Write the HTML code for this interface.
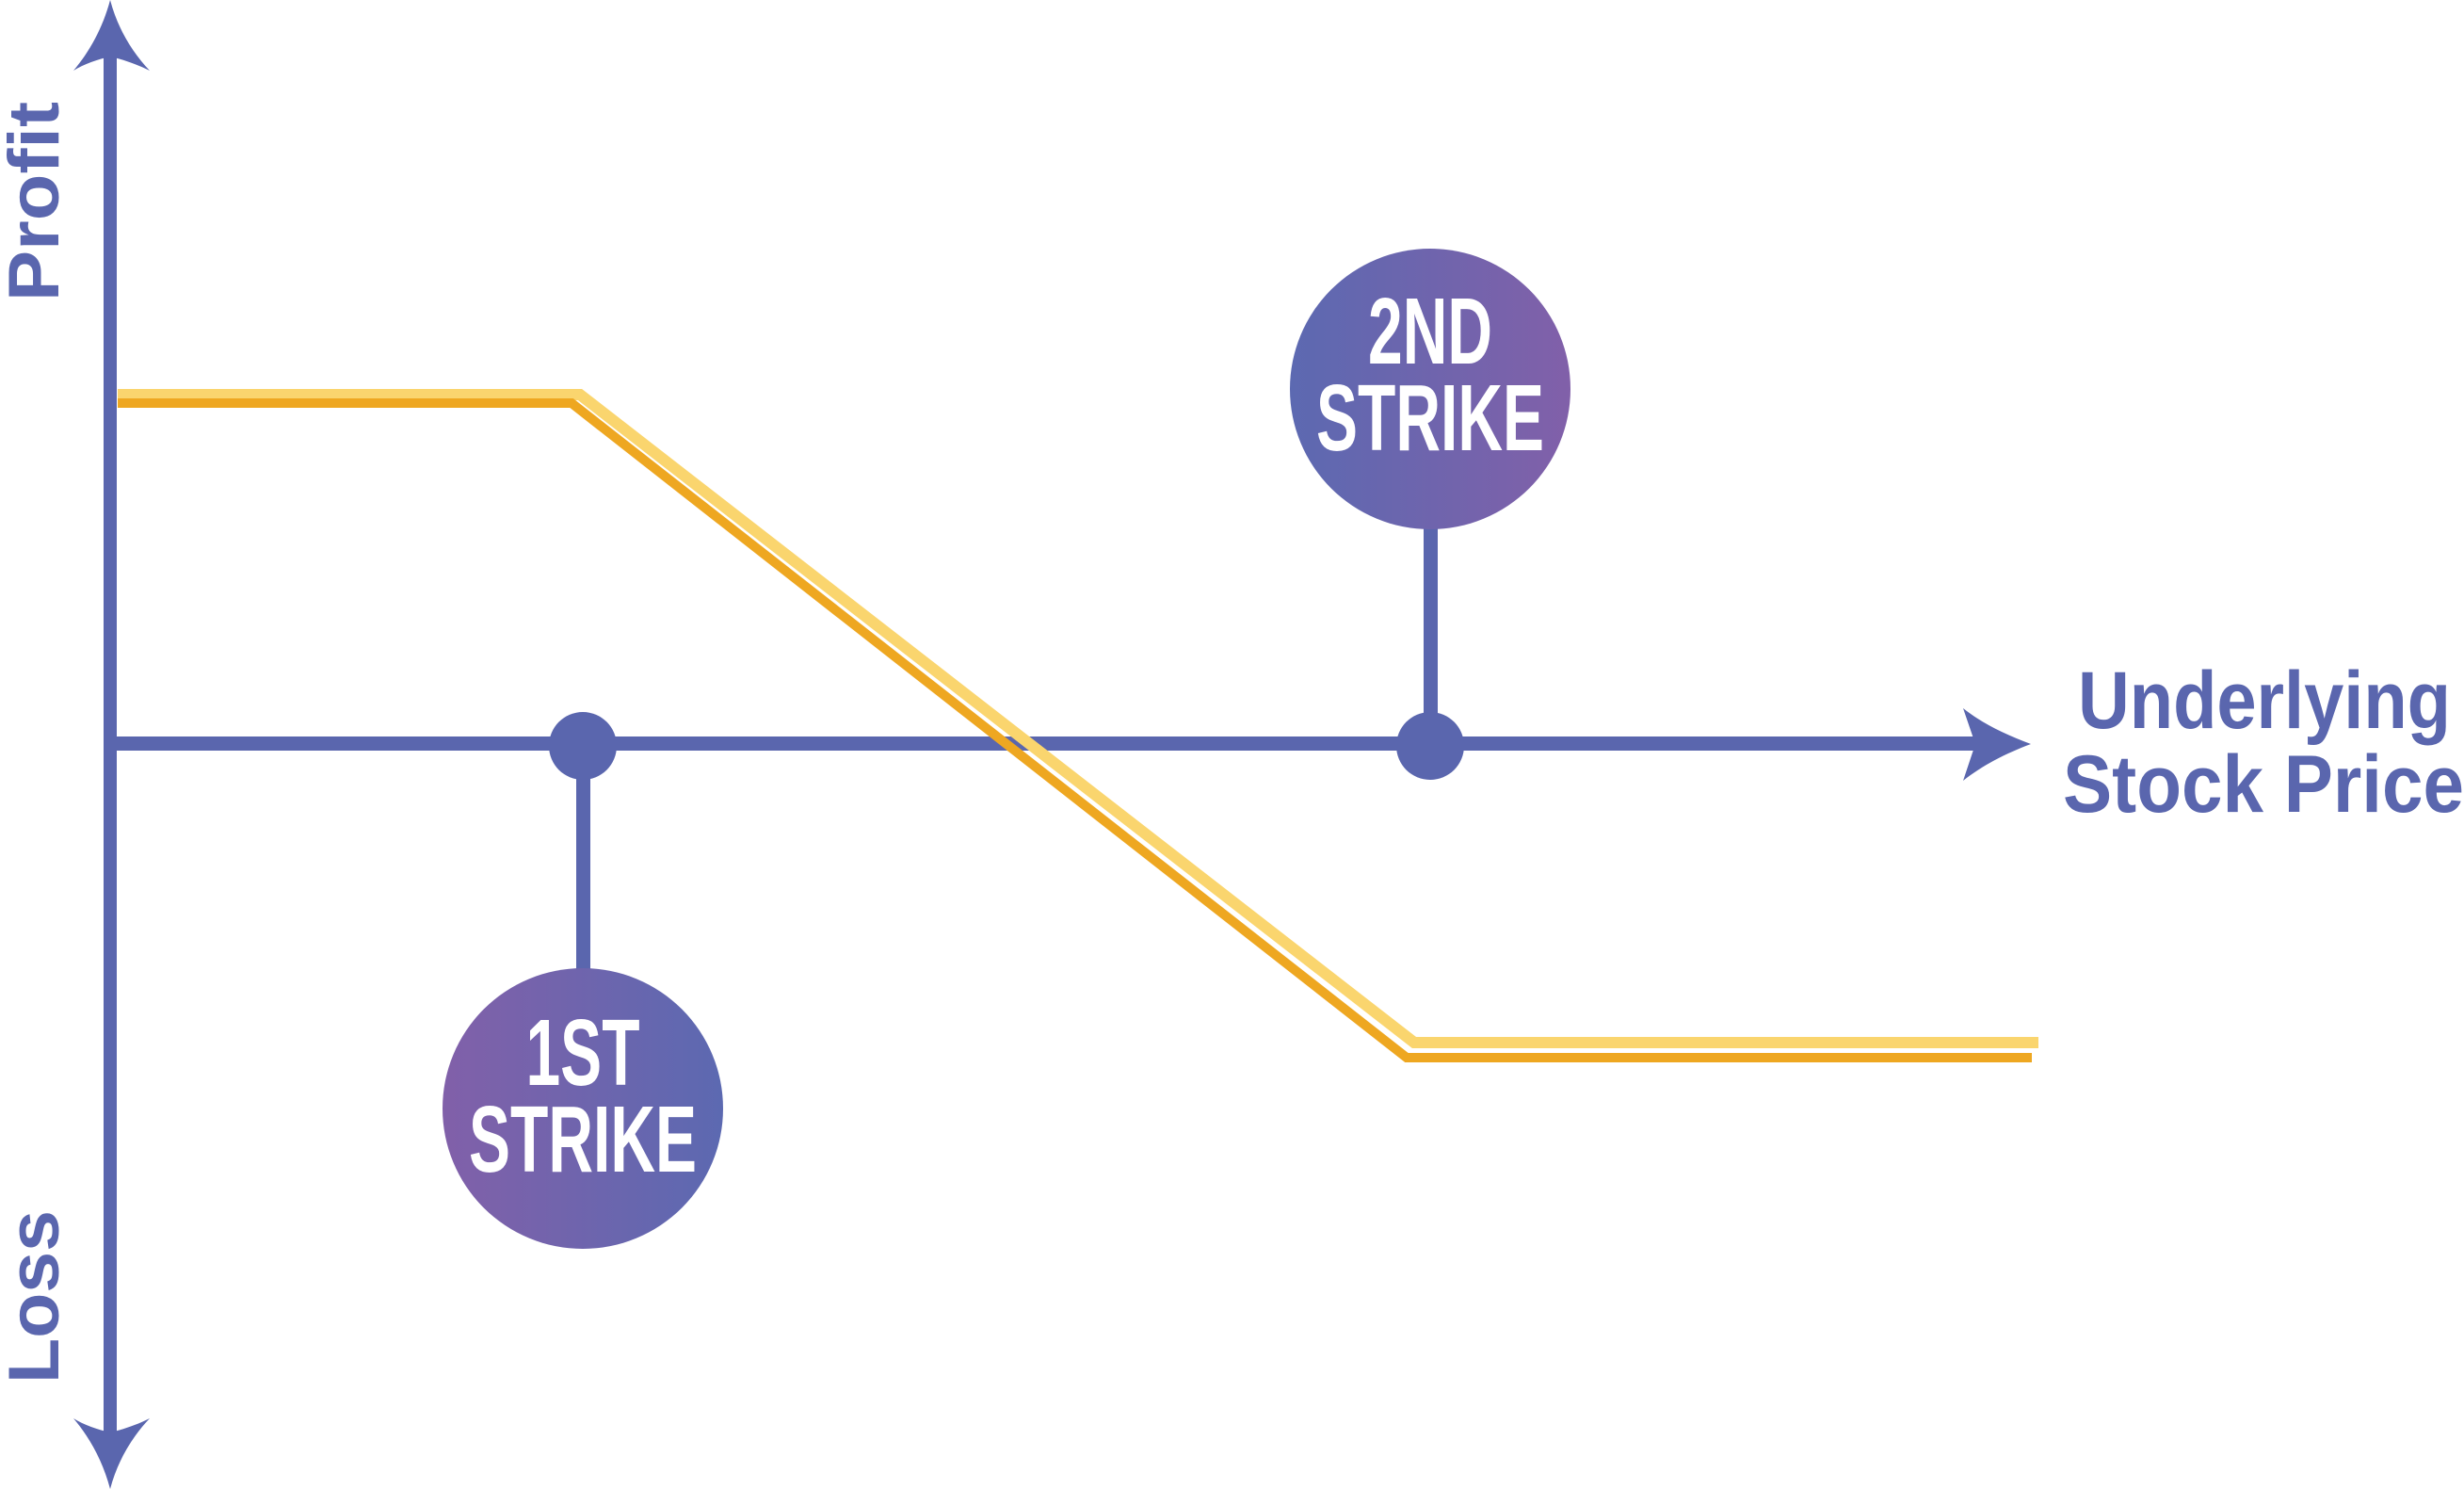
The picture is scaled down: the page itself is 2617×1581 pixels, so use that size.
<!DOCTYPE html>
<html><head><meta charset="utf-8"><style>
html,body{margin:0;padding:0;background:#fff}
svg{display:block}
</style></head><body>
<svg width="2617" height="1581" viewBox="0 0 2617 1581" xmlns="http://www.w3.org/2000/svg">
<defs>
<linearGradient id="g2" x1="0" x2="1" y1="0" y2="0"><stop offset="0" stop-color="#5c69b1"/><stop offset="1" stop-color="#8160a9"/></linearGradient>
<linearGradient id="g1" x1="0" x2="1" y1="0" y2="0"><stop offset="0" stop-color="#8160a9"/><stop offset="1" stop-color="#5c69b1"/></linearGradient>
</defs>
<g fill="#5a66ae" stroke="none">
<rect x="110" y="55" width="14" height="1470"/>
<path d="M117 0 C125 30 140 55 159 75 C145 68 130 63 117 60 C104 63 89 68 78 75 C95 55 109 30 117 0Z"/>
<path d="M117 1581 C125 1551 140 1526 159 1506 C145 1513 130 1518 117 1521 C104 1518 89 1513 78 1506 C95 1526 109 1551 117 1581Z"/>
<rect x="124" y="782" width="1980" height="15"/>
<path d="M2157 790 C2130 780 2105 768 2085 752 L2098 790 L2085 829 C2105 813 2130 800 2157 790Z"/>
<rect x="612" y="790" width="15" height="245"/>
<rect x="1512" y="550" width="15" height="240"/>
<circle cx="619" cy="792" r="36"/>
<circle cx="1519" cy="792" r="36"/>
</g>
<polyline points="125,419 616,419 1502,1107 2165,1107" fill="none" stroke="#fad56e" stroke-width="12"/>
<polyline points="125,428 607,428 1494,1123 2158,1123" fill="none" stroke="#eea721" stroke-width="10"/>
<circle cx="1519" cy="413" r="149" fill="url(#g2)"/>
<circle cx="619" cy="1177" r="149" fill="url(#g1)"/>
<g fill="#fff" font-family="Liberation Sans, sans-serif" font-weight="bold" font-size="100" text-anchor="middle">
<text transform="translate(1519,386) scale(0.66,1)">2ND</text>
<text transform="translate(1519,478) scale(0.66,1)">STRIKE</text>
<text transform="translate(619,1152) scale(0.66,1)">1ST</text>
<text transform="translate(619,1244) scale(0.66,1)">STRIKE</text>
</g>
<g fill="#5a66ae" font-family="Liberation Sans, sans-serif" font-weight="bold" font-size="86">
<text x="2405" y="773" text-anchor="middle" textLength="396" lengthAdjust="spacingAndGlyphs">Underlying</text>
<text x="2404" y="862" text-anchor="middle" textLength="426" lengthAdjust="spacingAndGlyphs">Stock Price</text>
<text transform="translate(62,214) rotate(-90)" text-anchor="middle" font-size="76" textLength="212" lengthAdjust="spacingAndGlyphs">Profit</text>
<text transform="translate(62,1377) rotate(-90)" text-anchor="middle" font-size="76" textLength="184" lengthAdjust="spacingAndGlyphs">Loss</text>
</g>
</svg>
</body></html>
